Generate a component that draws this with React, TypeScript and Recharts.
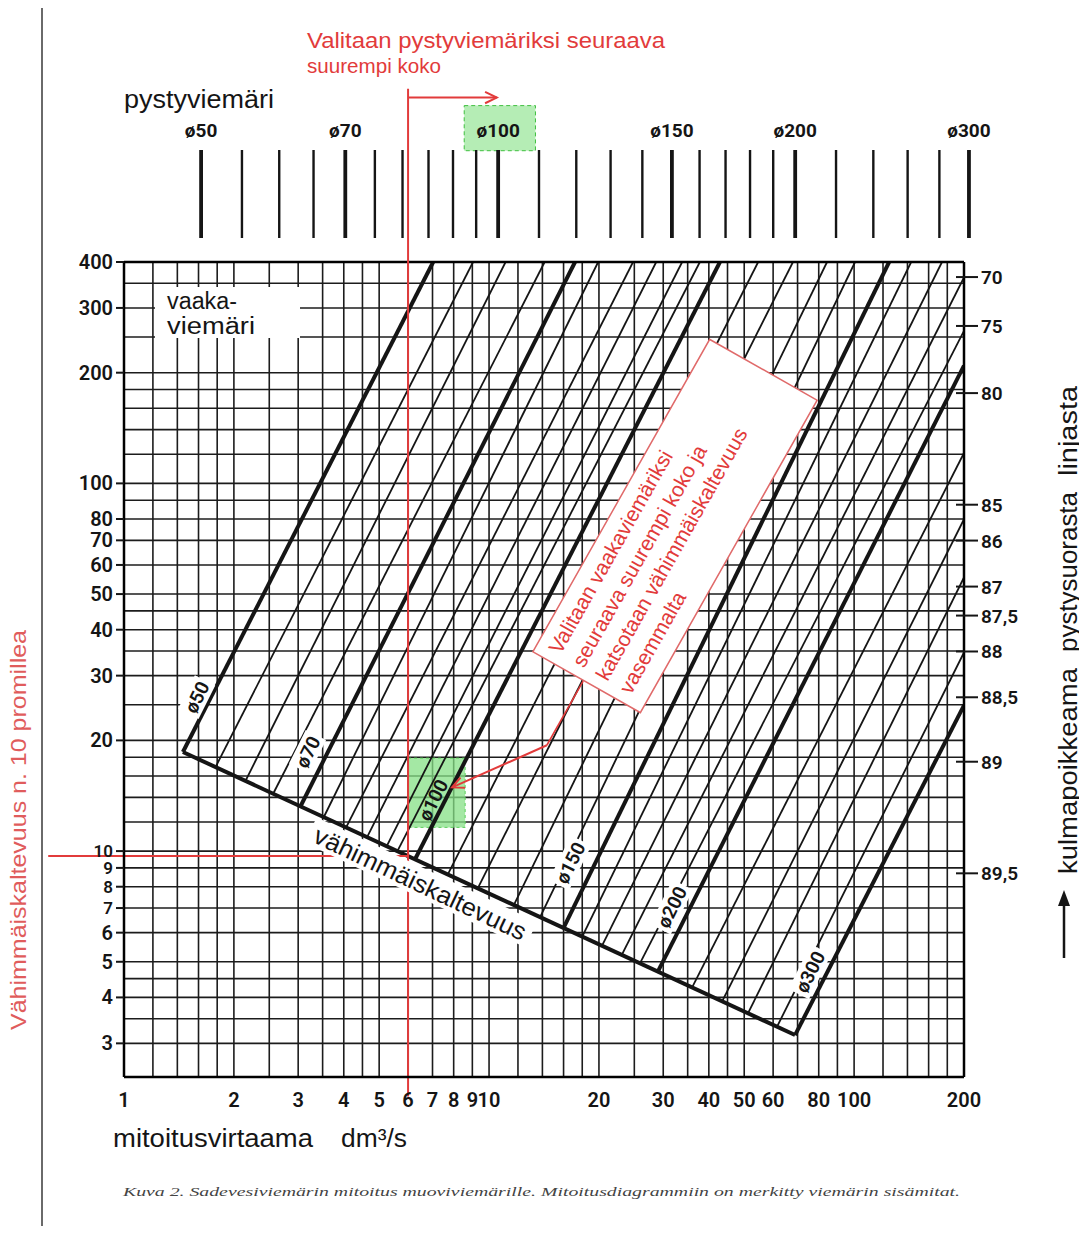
import React from "react";
import {
  ComposedChart,
  Line,
  XAxis,
  YAxis,
  CartesianGrid,
  ReferenceLine,
  ReferenceArea,
  ReferenceDot,
} from "recharts";

// horizontal drain inner diameters (mm), one diagonal each
const diameters = [50, 55, 60, 65, 70, 75, 80, 85, 90, 95, 100, 110, 120, 130, 140, 150, 160, 170, 180, 190, 200, 220, 240, 260, 280, 300];
const majorDiameters = [50, 70, 100, 150, 200, 300];

// each diagonal starts on the minimum slope line...
const startFlow = [1.45, 1.78, 2.15, 2.56, 3.04, 3.53, 4.06, 4.63, 5.24, 5.61, 6.27, 7.71, 9.31, 11.7, 13.8, 16.0, 18.0, 20.4, 23.1, 25.9, 29.0, 36.0, 43.5, 51.2, 61.5, 68.9];
const startSlope = [18.6, 16.9, 15.5, 14.3, 13.2, 12.4, 11.6, 10.9, 10.3, 10.0, 9.5, 8.64, 7.92, 7.14, 6.61, 6.18, 5.85, 5.53, 5.22, 4.95, 4.7, 4.26, 3.9, 3.62, 3.33, 3.16];
// ...and runs out at the top (400) or the right edge (200 dm3/s)
const endFlow = [7.03, 9.04, 11.1, 14.2, 17.2, 19.9, 24.8, 28.7, 33.8, 37.8, 42.9, 54.6, 68.0, 84.3, 100.6, 124.7, 143.3, 174.1, 200, 200, 200, 200, 200, 200, 200, 200];
const endSlope = [400, 400, 400, 400, 400, 400, 400, 400, 400, 400, 400, 400, 400, 400, 400, 400, 400, 400, 363, 260, 209, 121, 79.9, 55.5, 34.7, 24.9];

// vähimmäiskaltevuus
const minSlopeFlow = [1.45, 68.9];
const minSlopeValue = [18.6, 3.16];

// grid + axis labels
const gridX = [1, 1.2, 1.4, 1.6, 1.8, 2, 2.5, 3, 3.5, 4, 4.5, 5, 6, 7, 8, 9, 10, 12, 14, 16, 18, 20, 25, 30, 35, 40, 45, 50, 60, 70, 80, 90, 100, 120, 140, 160, 180, 200];
const xLabels = [1, 2, 3, 4, 5, 6, 7, 8, 9, 10, 20, 30, 40, 50, 60, 80, 100, 200];
const gridY = [3, 3.5, 4, 4.5, 5, 6, 7, 8, 9, 10, 12, 14, 16, 18, 20, 25, 30, 35, 40, 45, 50, 60, 70, 80, 90, 100, 120, 140, 160, 180, 200, 250, 300, 350, 400];
const yLabels = [3, 4, 5, 6, 7, 8, 9, 10, 20, 30, 40, 50, 60, 70, 80, 100, 200, 300, 400];

// right scale: angle from vertical, placed at its slope (promille)
const angleSlopes = [364, 268, 176, 87.5, 69.9, 52.4, 43.7, 34.9, 26.2, 17.5, 8.7];
const angleLabels = ["70", "75", "80", "85", "86", "87", "87,5", "88", "88,5", "89", "89,5"];

// pystyviemäri scale at the top
const stackTicks = [50, 55, 60, 65, 70, 75, 80, 85, 90, 95, 100, 110, 120, 130, 140, 150, 160, 170, 180, 190, 200, 220, 240, 260, 280, 300];
const stackLabelled = [50, 70, 100, 150, 200, 300];

// worked example: 6 dm3/s, ~10 promille
const exampleFlow = 6;
const exampleSlope = 9.7;

const RED = "#e23b3b";
const INK = "#151515";
const SANS = "'Liberation Sans', Arial, sans-serif";
const NUM = "Roboto, 'Liberation Sans', sans-serif";

const pipeLabelAt = [
  { text: "ø50", x: 1.585, y: 26.2, bg: true },
  { text: "ø70", x: 3.19, y: 18.6, bg: true },
  { text: "ø100", x: 7.03, y: 13.76, bg: false },
  { text: "ø150", x: 16.7, y: 9.28, bg: true },
  { text: "ø200", x: 31.7, y: 7.04, bg: true },
  { text: "ø300", x: 75.8, y: 4.69, bg: true },
];

const XTick = (p: any) => {
  const v = p.payload.value;
  if (!xLabels.includes(v)) return <g />;
  return (
    <text x={p.x} y={p.y + 30} textAnchor="middle" fontFamily={NUM} fontWeight={600} fontSize={20} fill={INK}>
      {v}
    </text>
  );
};

const LeftTick = (p: any) => {
  const v = p.payload.value;
  if (!yLabels.includes(v)) return <g />;
  const tight = v >= 7 && v <= 10;
  return (
    <g>
      <line x1={p.x - 8} x2={p.x} y1={p.y} y2={p.y} stroke={INK} strokeWidth={2} />
      <text x={p.x - 11} y={p.y + (tight ? 6 : 7)} textAnchor="end" fontFamily={NUM} fontWeight={600} fontSize={tight ? 17 : 20} fill={INK}>
        {v}
      </text>
    </g>
  );
};

const RightTick = (p: any) => {
  const i = angleSlopes.indexOf(p.payload.value);
  return (
    <g>
      <line x1={p.x - 8} x2={p.x + 14} y1={p.y} y2={p.y} stroke={INK} strokeWidth={2} />
      <text x={p.x + 17} y={p.y + 7} fontFamily={NUM} fontWeight={600} fontSize={19} fill={INK}>
        {angleLabels[i]}
      </text>
    </g>
  );
};

const TopTick = (p: any) => {
  const v = p.payload.value;
  const major = stackLabelled.includes(v);
  return (
    <g>
      <line x1={p.x} x2={p.x} y1={p.y - 88} y2={p.y} stroke={INK} strokeWidth={major ? 3.8 : 2.4} />
      {major && (
        <text x={p.x} y={p.y - 101} textAnchor="middle" fontFamily={NUM} fontWeight={700} fontSize={19} fill={INK}>
          {"ø" + v}
        </text>
      )}
    </g>
  );
};

const arrowShape = (p: any) => {
  const { x1, y1, x2, y2 } = p;
  const a = Math.atan2(y2 - y1, x2 - x1);
  const L = 13;
  const s = 0.45;
  const pts = `${x2 - L * Math.cos(a - s)},${y2 - L * Math.sin(a - s)} ${x2},${y2} ${x2 - L * Math.cos(a + s)},${y2 - L * Math.sin(a + s)}`;
  return (
    <g>
      <line x1={x1} y1={y1} x2={x2} y2={y2} stroke={RED} strokeWidth={2} />
      <polyline points={pts} fill="none" stroke={RED} strokeWidth={2} />
    </g>
  );
};

const rotLabel = (text: string, angle: number, size: number, bg: boolean, w: number) => (p: any) => (
  <g transform={`translate(${p.cx},${p.cy}) rotate(${angle})`}>
    {bg && <rect x={-w / 2} y={-size * 0.62} width={w} height={size * 1.2} fill="#fff" />}
    <text x={0} y={size * 0.35} textAnchor="middle" fontFamily={NUM} fontWeight={600} fontSize={size} fill={INK}>
      {text}
    </text>
  </g>
);

const minLabel = (p: any) => (
  <g transform={`translate(${p.cx},${p.cy}) rotate(25.4)`}>
    <rect x={-122} y={-16} width={244} height={28} fill="#fff" />
    <text x={0} y={8} textAnchor="middle" fontFamily={SANS} fontSize={25} fill={INK} textLength={232} lengthAdjust="spacingAndGlyphs">
      vähimmäiskaltevuus
    </text>
  </g>
);

function MainChart() {
  return (
    <ComposedChart width={1071} height={1218} margin={{ top: 254, right: 35, bottom: 109, left: 36 }}>
      <CartesianGrid stroke="#1c1c1c" strokeWidth={1.6} />
      <XAxis
        dataKey="x"
        type="number"
        scale="log"
        domain={[1, 200]}
        allowDataOverflow
        ticks={gridX}
        interval={0}
        tick={<XTick />}
        tickLine={false}
        tickSize={0}
        tickMargin={0}
        height={40}
        axisLine={{ stroke: "#000", strokeWidth: 2.5 }}
      />
      <YAxis
        type="number"
        scale="log"
        domain={[2.43, 400]}
        allowDataOverflow
        ticks={gridY}
        interval={0}
        tick={<LeftTick />}
        tickLine={false}
        tickSize={0}
        tickMargin={0}
        width={80}
        axisLine={{ stroke: "#000", strokeWidth: 2.5 }}
      />
      <YAxis
        yAxisId="angle"
        orientation="right"
        type="number"
        scale="log"
        domain={[2.43, 400]}
        allowDataOverflow
        ticks={angleSlopes}
        interval={0}
        tick={<RightTick />}
        tickLine={false}
        tickSize={0}
        tickMargin={0}
        width={80}
        axisLine={{ stroke: "#000", strokeWidth: 2.5 }}
      />
      <ReferenceArea x1={6} x2={8.6} y1={11.6} y2={17.9} fill="#86e086" fillOpacity={0.75} stroke="#5ccf5c" strokeDasharray="3 3" />
      <ReferenceArea x1={8.55} x2={13.4} y1={803} y2={1065} ifOverflow="visible" fill="#8de38d" fillOpacity={0.65} stroke="#3fbf3f" strokeDasharray="4 3" />
      {diameters.map((d, i) => (
        <Line
          key={d}
          data={[
            { x: startFlow[i], y: startSlope[i] },
            { x: endFlow[i], y: endSlope[i] },
          ]}
          dataKey="y"
          type="linear"
          dot={false}
          activeDot={false}
          stroke={INK}
          strokeWidth={majorDiameters.includes(d) ? 4 : 1.8}
          isAnimationActive={false}
        />
      ))}
      <Line
        data={minSlopeFlow.map((x, i) => ({ x, y: minSlopeValue[i] }))}
        dataKey="y"
        type="linear"
        dot={false}
        activeDot={false}
        stroke={INK}
        strokeWidth={4}
        isAnimationActive={false}
      />
      <ReferenceLine y={400} stroke="#000" strokeWidth={2.5} />
      <ReferenceLine
        segment={[
          { x: exampleFlow, y: 1183 },
          { x: exampleFlow, y: 2.15 },
        ]}
        ifOverflow="visible"
        stroke={RED}
        strokeWidth={2}
      />
      <ReferenceLine
        segment={[
          { x: 0.62, y: exampleSlope },
          { x: exampleFlow, y: exampleSlope },
        ]}
        ifOverflow="visible"
        stroke={RED}
        strokeWidth={2}
      />
      <ReferenceLine
        segment={[
          { x: exampleFlow, y: 1120 },
          { x: 10.5, y: 1120 },
        ]}
        ifOverflow="visible"
        shape={arrowShape}
      />
      <ReferenceLine
        segment={[
          { x: 18.1, y: 29 },
          { x: 14.4, y: 19.4 },
        ]}
        ifOverflow="visible"
        stroke={RED}
        strokeWidth={1.6}
      />
      <ReferenceLine
        segment={[
          { x: 14.4, y: 19.4 },
          { x: 7.92, y: 14.9 },
        ]}
        ifOverflow="visible"
        shape={arrowShape}
      />
      {pipeLabelAt.map((l) => (
        <ReferenceDot key={l.text} x={l.x} y={l.y} ifOverflow="visible" shape={rotLabel(l.text, -63.5, 19, l.bg, l.text.length * 12.5)} />
      ))}
      <ReferenceDot x={6.47} y={8.13} ifOverflow="visible" shape={minLabel} />
    </ComposedChart>
  );
}

function StackScale() {
  return (
    <ComposedChart
      width={1071}
      height={240}
      margin={{ top: 30, right: 84, bottom: 0, left: 147 }}
      data={stackTicks.map((d) => ({ d }))}
    >
      <XAxis
        orientation="top"
        dataKey="d"
        type="number"
        scale="log"
        domain={[44.9, 318.8]}
        allowDataOverflow
        ticks={stackTicks}
        interval={0}
        height={200}
        tick={<TopTick />}
        tickLine={false}
        tickSize={0}
        tickMargin={0}
        axisLine={false}
      />
      <YAxis hide domain={[0, 1]} />
    </ComposedChart>
  );
}

export default function App() {
  return (
    <div style={{ position: "relative", width: 1071, height: 1218, background: "#fff" }}>
      <div style={{ position: "absolute", left: 33, top: -8, width: 1.5, height: 1234, background: "#6a6a6a" }} />
      <div style={{ position: "absolute", left: 0, top: 0 }}>
        <MainChart />
      </div>
      <div style={{ position: "absolute", left: 0, top: 0 }}>
        <StackScale />
      </div>
      <svg
        width={1071}
        height={1218}
        style={{ position: "absolute", left: 0, top: 0, overflow: "visible", pointerEvents: "none" }}
      >
        <text x={299} y={40} fill={RED} fontSize={22} fontFamily={SANS} textLength={358} lengthAdjust="spacingAndGlyphs">
          Valitaan pystyviemäriksi seuraava
        </text>
        <text x={299} y={65} fill={RED} fontSize={21} fontFamily={SANS} textLength={134} lengthAdjust="spacingAndGlyphs">
          suurempi koko
        </text>
        <text x={116} y={100} fill={INK} fontSize={26} fontFamily={SANS} textLength={150} lengthAdjust="spacingAndGlyphs">
          pystyviemäri
        </text>
        <rect x={147} y={279} width={145} height={51} fill="#fff" />
        <text x={159} y={301} fill={INK} fontSize={23} fontFamily={SANS} textLength={70} lengthAdjust="spacingAndGlyphs">
          vaaka-
        </text>
        <text x={159} y={326} fill={INK} fontSize={23} fontFamily={SANS} textLength={88} lengthAdjust="spacingAndGlyphs">
          viemäri
        </text>
        <text x={105} y={1139} fill={INK} fontSize={25} fontFamily={SANS} textLength={200} lengthAdjust="spacingAndGlyphs">
          mitoitusvirtaama
        </text>
        <text x={333} y={1139} fill={INK} fontSize={25} fontFamily={SANS} textLength={66} lengthAdjust="spacingAndGlyphs">
          dm³/s
        </text>
        <text x={115} y={1188} fill="#444" fontSize={13} fontStyle="italic" fontFamily="'Liberation Serif', serif" textLength={837} lengthAdjust="spacingAndGlyphs">
          Kuva 2. Sadevesiviemärin mitoitus muoviviemärille. Mitoitusdiagrammiin on merkitty viemärin sisämitat.
        </text>
        <text transform="translate(18,822) rotate(-90)" textAnchor="middle" fill="#e05c5c" fontSize={22} fontFamily={SANS} textLength={400} lengthAdjust="spacingAndGlyphs">
          Vähimmäiskaltevuus n. 10 promillea
        </text>
        <text transform="translate(1069,763) rotate(-90)" textAnchor="middle" fill={INK} fontSize={25} fontFamily={SANS} textLength={206} lengthAdjust="spacingAndGlyphs">
          kulmapoikkeama
        </text>
        <text transform="translate(1069,564) rotate(-90)" textAnchor="middle" fill={INK} fontSize={25} fontFamily={SANS} textLength={160} lengthAdjust="spacingAndGlyphs">
          pystysuorasta
        </text>
        <text transform="translate(1069,423) rotate(-90)" textAnchor="middle" fill={INK} fontSize={25} fontFamily={SANS} textLength={90} lengthAdjust="spacingAndGlyphs">
          linjasta
        </text>
        <line x1={1056} y1={950} x2={1056} y2={895} stroke={INK} strokeWidth={2.5} />
        <path d="M1056,882 L1050,898 L1062,898 Z" fill={INK} />
        <g transform="translate(667,518) rotate(-60.5)">
          <rect x={-179.5} y={-61.75} width={359} height={123.5} fill="#fff" stroke="#e06a6a" strokeWidth={1.5} />
          <text x={-169} y={-36} fill={RED} fontSize={21} fontFamily={SANS}>Valitaan vaakaviemäriksi</text>
          <text x={-169} y={-9} fill={RED} fontSize={21} fontFamily={SANS}>seuraava suurempi koko ja</text>
          <text x={-169} y={18} fill={RED} fontSize={21} fontFamily={SANS}>katsotaan vähimmäiskaltevuus</text>
          <text x={-169} y={45} fill={RED} fontSize={21} fontFamily={SANS}>vasemmalta</text>
        </g>
      </svg>
    </div>
  );
}
